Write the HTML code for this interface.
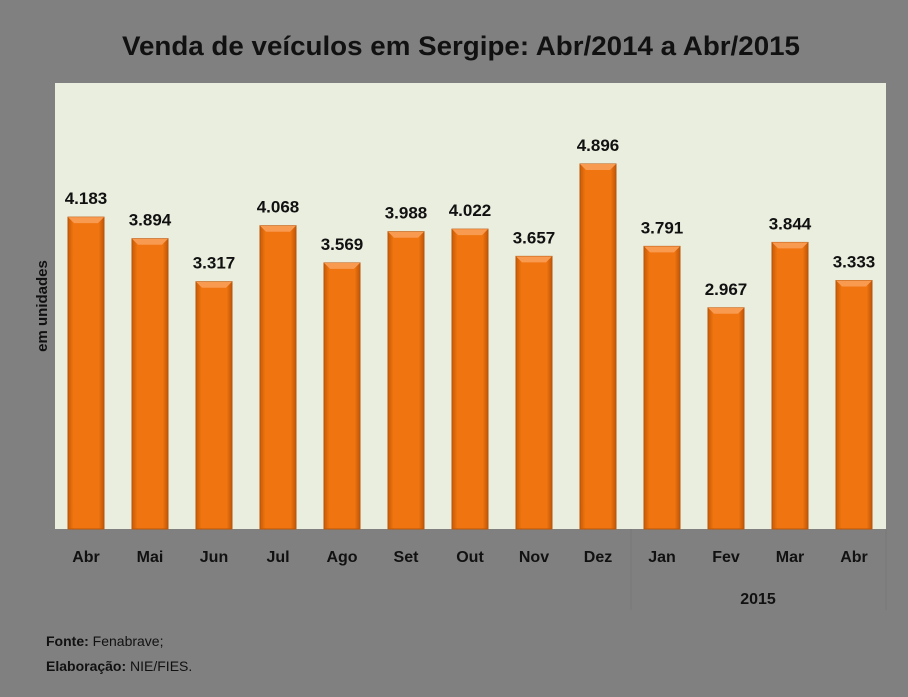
<!DOCTYPE html>
<html><head><meta charset="utf-8"><style>
body{margin:0;background:#808080;}
svg{display:block;font-family:"Liberation Sans",sans-serif;}
</style></head><body>
<svg width="908" height="697" id="c">
<defs>
<linearGradient id="g" x1="0" x2="1" y1="0" y2="0">
<stop offset="0" stop-color="#c85a08"/><stop offset="0.15" stop-color="#f07510"/><stop offset="0.85" stop-color="#f07510"/><stop offset="1" stop-color="#c05508"/>
</linearGradient>
</defs>
<rect x="0" y="0" width="908" height="697" fill="#808080"/>
<text x="461" y="55" text-anchor="middle" font-size="27" font-weight="bold" fill="#111" textLength="678" lengthAdjust="spacingAndGlyphs">Venda de veículos em Sergipe: Abr/2014 a Abr/2015</text>
<rect x="55" y="83" width="831" height="446" fill="#eaeedf"/>
<text transform="translate(47,306) rotate(-90)" text-anchor="middle" font-size="15" font-weight="bold" fill="#111">em unidades</text>
<line x1="631" y1="529" x2="631" y2="610" stroke="#777"/>
<line x1="886" y1="529" x2="886" y2="610" stroke="#777"/>
<text x="758" y="604" text-anchor="middle" font-size="16" font-weight="bold" fill="#111">2015</text>
<g id="bars"></g>
<text x="46" y="646" font-size="14" fill="#111"><tspan font-weight="bold">Fonte:</tspan> Fenabrave;</text>
<text x="46" y="671" font-size="14" fill="#111"><tspan font-weight="bold">Elaboração:</tspan> NIE/FIES.</text>
</svg>
<script>
const categories=["Abr","Mai","Jun","Jul","Ago","Set","Out","Nov","Dez","Jan","Fev","Mar","Abr"];
const values=[4183,3894,3317,4068,3569,3988,4022,3657,4896,3791,2967,3844,3333];
const labels=["4.183","3.894","3.317","4.068","3.569","3.988","4.022","3.657","4.896","3.791","2.967","3.844","3.333"];
const NS="http://www.w3.org/2000/svg";
const g=document.getElementById('bars');
const base=529, scale=(529-164)/4896;
const xc=i=>86+i*64;
const y=v=>base-v*scale;
function mk(t,a){const e=document.createElementNS(NS,t);for(const k in a)e.setAttribute(k,a[k]);return e;}
values.forEach((v,i)=>{
  const b=mk('rect',{x:xc(i)-18,y:y(v),width:36,height:base-y(v),fill:'url(#g)',stroke:'#b8560a','stroke-width':1});
  
  
  g.appendChild(b);
  const top=mk('polygon',{points:`${xc(i)-18},${y(v)} ${xc(i)+18},${y(v)} ${xc(i)+12},${y(v)+6} ${xc(i)-12},${y(v)+6}`,fill:'#f89a50'});
  
  
  g.appendChild(top);
  const t=mk('text',{x:xc(i),y:y(v)-13,'text-anchor':'middle','font-size':17,'font-weight':'bold',fill:'#111'});
  t.textContent=labels[i];
  
  
  g.appendChild(t);
  const c=mk('text',{x:xc(i),y:562,'text-anchor':'middle','font-size':16,'font-weight':'bold',fill:'#111'});
  c.textContent=categories[i];
  
  
  g.appendChild(c);
});
</script>
</body></html>
